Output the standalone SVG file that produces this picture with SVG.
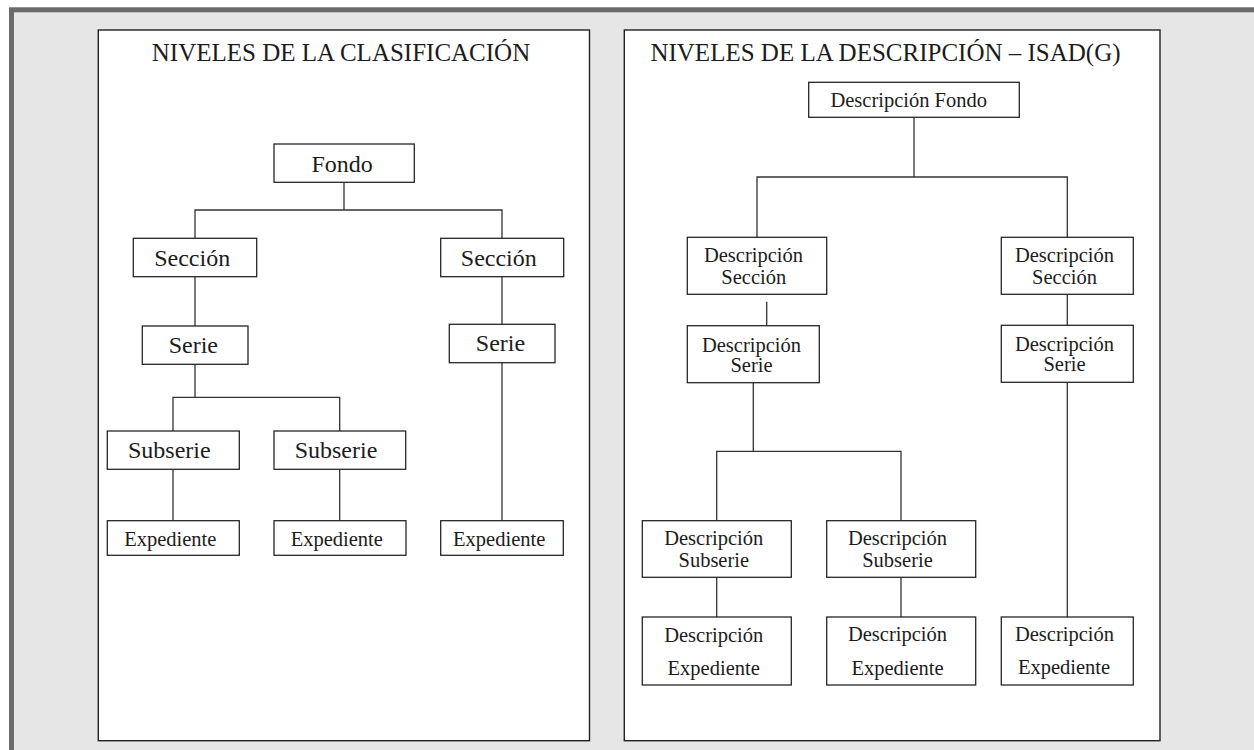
<svg xmlns="http://www.w3.org/2000/svg" width="1254" height="750" viewBox="0 0 1254 750">
<style>
.panel{fill:#ffffff;stroke:#222222;stroke-width:1.4}
.box{fill:#ffffff;stroke:#262626;stroke-width:1.3}
.conn{fill:none;stroke:#333333;stroke-width:1.3}
text{font-family:"Liberation Serif","DejaVu Serif",serif;fill:#1c1c1c;text-anchor:middle}
.title{font-size:25px}
.big{font-size:24px}
.small{font-size:20.5px}
</style>
<rect x="0" y="0" width="1254" height="750" fill="#ffffff"/>
<rect x="11.5" y="9.8" width="1300" height="800" fill="#e6e6e6" stroke="#6b6b6b" stroke-width="5"/>
<g id="panel-clasificacion">
<rect class="panel" x="98.3" y="30" width="491.2" height="710.7"/>
<text class="title" x="341" y="61">NIVELES DE LA CLASIFICACIÓN</text>
</g>
<g id="panel-descripcion">
<rect class="panel" x="624.3" y="30" width="535.7" height="710.7"/>
<text class="title" x="885.5" y="61">NIVELES DE LA DESCRIPCIÓN – ISAD(G)</text>
</g>
<g id="connectors">
<path class="conn" d="M344,182.3 V210 M195,238.3 V210 H502 V238.3"/>
<path class="conn" d="M195,276.7 V326"/>
<path class="conn" d="M502,276.7 V324.3"/>
<path class="conn" d="M195,364.3 V397.3 M173,431 V397.3 H339.7 V431"/>
<path class="conn" d="M173,469.3 V520.7"/>
<path class="conn" d="M339.7,469.3 V520.7"/>
<path class="conn" d="M502,362.7 V520.7"/>
<path class="conn" d="M914,117.3 V177 M757,237.3 V177 H1067.3 V237.3"/>
<path class="conn" d="M766.7,301.7 V325.7"/>
<path class="conn" d="M1067.3,294.3 V325.3"/>
<path class="conn" d="M753.3,382.7 V451.3 M716.7,520.7 V451.3 H901 V520.7"/>
<path class="conn" d="M716.7,577.3 V617"/>
<path class="conn" d="M901,577.3 V617"/>
<path class="conn" d="M1067.3,382.3 V617"/>
</g>
<g id="fondo"><rect class="box" x="274" y="144" width="140.3" height="38.3"/><text class="big" x="342.2" y="171.7">Fondo</text></g>
<g id="seccion-1"><rect class="box" x="133.3" y="238.3" width="123.4" height="38.4"/><text class="big" x="192.2" y="265.7">Sección</text></g>
<g id="seccion-2"><rect class="box" x="440.7" y="238.3" width="123" height="38.4"/><text class="big" x="498.8" y="265.7">Sección</text></g>
<g id="serie-1"><rect class="box" x="142.3" y="326" width="105.7" height="38.3"/><text class="big" x="193.3" y="352.7">Serie</text></g>
<g id="serie-2"><rect class="box" x="449.3" y="324.3" width="105.7" height="38.4"/><text class="big" x="500.5" y="351">Serie</text></g>
<g id="subserie-1"><rect class="box" x="107.3" y="431" width="132" height="38.3"/><text class="big" x="169.3" y="458.3">Subserie</text></g>
<g id="subserie-2"><rect class="box" x="274" y="431" width="131.7" height="38.3"/><text class="big" x="336" y="458.3">Subserie</text></g>
<g id="expediente-1"><rect class="box" x="107.3" y="520.7" width="132" height="34.6"/><text class="small" x="170.3" y="545.7">Expediente</text></g>
<g id="expediente-2"><rect class="box" x="274" y="520.7" width="132" height="34.6"/><text class="small" x="336.8" y="545.7">Expediente</text></g>
<g id="expediente-3"><rect class="box" x="440.7" y="520.7" width="122.6" height="34.6"/><text class="small" x="499.2" y="545.7">Expediente</text></g>
<g id="desc-fondo"><rect class="box" x="808.7" y="82.3" width="210.6" height="35"/><text class="small" x="908.7" y="107.3">Descripción Fondo</text></g>
<g id="desc-seccion-1"><rect class="box" x="687.3" y="237.3" width="139.4" height="57"/><text class="small" x="753.5" y="262.3">Descripción</text><text class="small" x="753.8" y="284.3">Sección</text></g>
<g id="desc-seccion-2"><rect class="box" x="1001.3" y="237.3" width="132" height="57"/><text class="small" x="1064.5" y="262.3">Descripción</text><text class="small" x="1064.5" y="284.3">Sección</text></g>
<g id="desc-serie-1"><rect class="box" x="687.3" y="325.7" width="132" height="57"/><text class="small" x="751.5" y="351.7">Descripción</text><text class="small" x="751.5" y="371.7">Serie</text></g>
<g id="desc-serie-2"><rect class="box" x="1001.3" y="325.3" width="132" height="57"/><text class="small" x="1064.5" y="351.3">Descripción</text><text class="small" x="1064.5" y="371.3">Serie</text></g>
<g id="desc-subserie-1"><rect class="box" x="642.3" y="520.7" width="149" height="56.6"/><text class="small" x="713.7" y="545">Descripción</text><text class="small" x="713.8" y="566.7">Subserie</text></g>
<g id="desc-subserie-2"><rect class="box" x="826.7" y="520.7" width="149" height="56.6"/><text class="small" x="897.5" y="545">Descripción</text><text class="small" x="897.5" y="566.7">Subserie</text></g>
<g id="desc-expediente-1"><rect class="box" x="642.3" y="617" width="149" height="68"/><text class="small" x="713.7" y="641.7">Descripción</text><text class="small" x="713.7" y="675">Expediente</text></g>
<g id="desc-expediente-2"><rect class="box" x="826.7" y="617" width="149" height="68"/><text class="small" x="897.5" y="641">Descripción</text><text class="small" x="897.5" y="675">Expediente</text></g>
<g id="desc-expediente-3"><rect class="box" x="1001.3" y="617" width="132" height="68"/><text class="small" x="1064.5" y="641">Descripción</text><text class="small" x="1064" y="674.3">Expediente</text></g>
</svg>
